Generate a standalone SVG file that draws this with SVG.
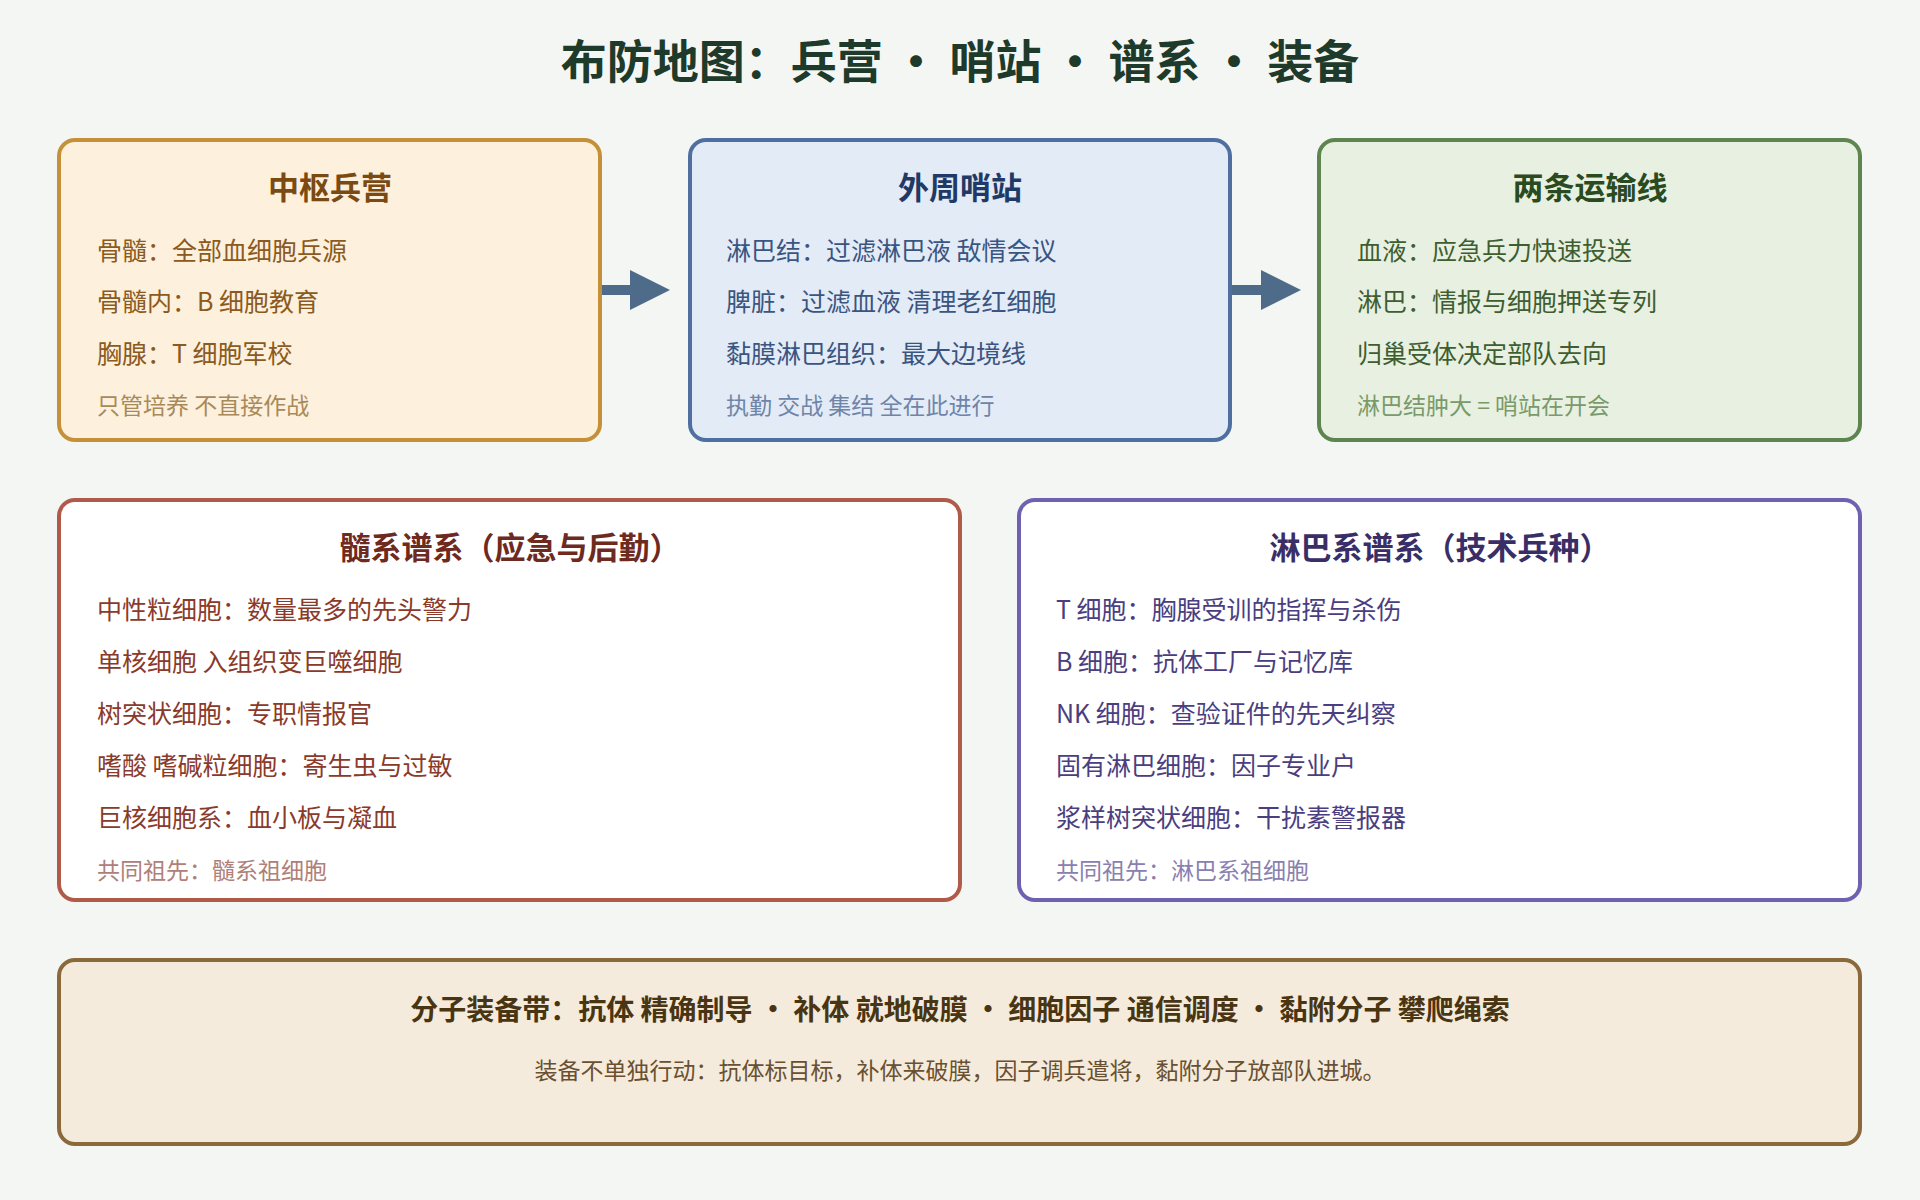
<svg xmlns="http://www.w3.org/2000/svg" width="1920" height="1200" viewBox="0 0 1920 1200">
<style>
text{font-family:"Noto Sans CJK SC","Noto Sans",sans-serif}
.t{font-size:31px;font-weight:700;text-anchor:middle}
.b{font-size:25px}
.n{font-size:23px}
.box{stroke-width:4}
</style>
<defs><marker id="ah" markerWidth="4" markerHeight="4" refX="2.5" refY="2" orient="auto" markerUnits="strokeWidth"><path d="M0,0 L4,2 L0,4z" fill="#4f6b8a"/></marker></defs>
<rect width="1920" height="1200" fill="#f4f6f4"/>
<text x="960" y="78" font-size="46" font-weight="700" text-anchor="middle" fill="#1e3a2a" style="font-family:'Noto Sans CJK SC',sans-serif">布防地图：兵营 • 哨站 • 谱系 • 装备</text>
<g id="connectors" stroke="#4f6b8a" stroke-width="10" fill="none">
<line x1="600" y1="290" x2="655" y2="290" marker-end="url(#ah)"/>
<line x1="1231" y1="290" x2="1286" y2="290" marker-end="url(#ah)"/>
</g>
<g id="central">
<rect class="box" x="59" y="140" width="541" height="300" rx="16" fill="#fdf0dc" stroke="#c4913a"/>
<text class="t" x="330" y="199" fill="#7a4a12">中枢兵营</text>
<text class="b" x="97" y="260" fill="#8a5a20">骨髓：全部血细胞兵源</text>
<text class="b" x="97" y="311" fill="#8a5a20">骨髓内：B 细胞教育</text>
<text class="b" x="97" y="363" fill="#8a5a20">胸腺：T 细胞军校</text>
<text class="n" x="97" y="414" fill="#a88a5a">只管培养 不直接作战</text>
</g>
<g id="peripheral">
<rect class="box" x="690" y="140" width="540" height="300" rx="16" fill="#e3ebf7" stroke="#4e6fa0"/>
<text class="t" x="960" y="199" fill="#1f3a66">外周哨站</text>
<text class="b" x="726" y="260" fill="#3a5580">淋巴结：过滤淋巴液 敌情会议</text>
<text class="b" x="726" y="311" fill="#3a5580">脾脏：过滤血液 清理老红细胞</text>
<text class="b" x="726" y="363" fill="#3a5580">黏膜淋巴组织：最大边境线</text>
<text class="n" x="726" y="414" fill="#6f85a8">执勤 交战 集结 全在此进行</text>
</g>
<g id="transport">
<rect class="box" x="1319" y="140" width="541" height="300" rx="16" fill="#e8f0e1" stroke="#5e8550"/>
<text class="t" x="1590" y="199" fill="#2a4a20">两条运输线</text>
<text class="b" x="1357" y="260" fill="#3e5e30">血液：应急兵力快速投送</text>
<text class="b" x="1357" y="311" fill="#3e5e30">淋巴：情报与细胞押送专列</text>
<text class="b" x="1357" y="363" fill="#3e5e30">归巢受体决定部队去向</text>
<text class="n" x="1357" y="414" fill="#7a9a6a">淋巴结肿大 = 哨站在开会</text>
</g>
<g id="myeloid">
<rect class="box" x="59" y="500" width="901" height="400" rx="16" fill="#ffffff" stroke="#b05a4a"/>
<text class="t" x="510" y="559" fill="#6e2a1e">髓系谱系（应急与后勤）</text>
<text class="b" x="97" y="619" fill="#8a3a2a">中性粒细胞：数量最多的先头警力</text>
<text class="b" x="97" y="671" fill="#8a3a2a">单核细胞 入组织变巨噬细胞</text>
<text class="b" x="97" y="723" fill="#8a3a2a">树突状细胞：专职情报官</text>
<text class="b" x="97" y="775" fill="#8a3a2a">嗜酸 嗜碱粒细胞：寄生虫与过敏</text>
<text class="b" x="97" y="827" fill="#8a3a2a">巨核细胞系：血小板与凝血</text>
<text class="n" x="97" y="879" fill="#b08078">共同祖先：髓系祖细胞</text>
</g>
<g id="lymphoid">
<rect class="box" x="1019" y="500" width="841" height="400" rx="16" fill="#ffffff" stroke="#7060b0"/>
<text class="t" x="1440" y="559" fill="#3a2e66">淋巴系谱系（技术兵种）</text>
<text class="b" x="1056" y="619" fill="#4a3e80">T 细胞：胸腺受训的指挥与杀伤</text>
<text class="b" x="1056" y="671" fill="#4a3e80">B 细胞：抗体工厂与记忆库</text>
<text class="b" x="1056" y="723" fill="#4a3e80">NK 细胞：查验证件的先天纠察</text>
<text class="b" x="1056" y="775" fill="#4a3e80">固有淋巴细胞：因子专业户</text>
<text class="b" x="1056" y="827" fill="#4a3e80">浆样树突状细胞：干扰素警报器</text>
<text class="n" x="1056" y="879" fill="#8a80b0">共同祖先：淋巴系祖细胞</text>
</g>
<g id="equipment">
<rect class="box" x="59" y="960" width="1801" height="184" rx="16" fill="#f4ebdc" stroke="#8a6a3a"/>
<text class="t" x="960" y="1020" font-size="28" fill="#4a3512" style="font-size:28px">分子装备带：抗体 精确制导 • 补体 就地破膜 • 细胞因子 通信调度 • 黏附分子 攀爬绳索</text>
<text class="n" x="960" y="1079" text-anchor="middle" fill="#6a5030">装备不单独行动：抗体标目标，补体来破膜，因子调兵遣将，黏附分子放部队进城。</text>
</g>
</svg>
